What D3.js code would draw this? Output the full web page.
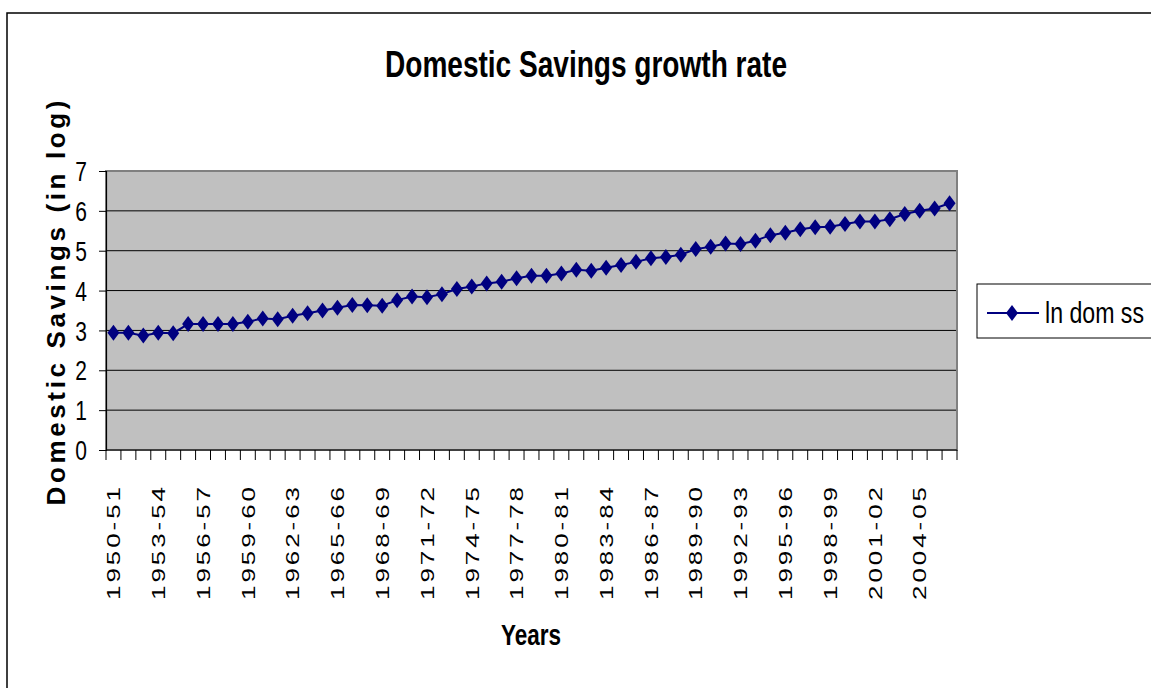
<!DOCTYPE html>
<html><head><meta charset="utf-8">
<script src="https://cdn.jsdelivr.net/npm/d3@7"></script>
<style>html,body{margin:0;padding:0;background:#fff;overflow:hidden}</style>
</head><body>
<svg id="c" width="1151" height="688"></svg>
<script>
const categories = ["1950-51","1951-52","1952-53","1953-54","1954-55","1955-56","1956-57","1957-58","1958-59","1959-60",
"1960-61","1961-62","1962-63","1963-64","1964-65","1965-66","1966-67","1967-68","1968-69","1969-70",
"1970-71","1971-72","1972-73","1973-74","1974-75","1975-76","1976-77","1977-78","1978-79","1979-80",
"1980-81","1981-82","1982-83","1983-84","1984-85","1985-86","1986-87","1987-88","1988-89","1989-90",
"1990-91","1991-92","1992-93","1993-94","1994-95","1995-96","1996-97","1997-98","1998-99","1999-00",
"2000-01","2001-02","2002-03","2003-04","2004-05","2005-06","2006-07"];
const lnDomSS = [2.94,2.94,2.87,2.94,2.93,3.16,3.16,3.16,3.16,3.22,
3.30,3.28,3.37,3.43,3.50,3.57,3.64,3.63,3.62,3.76,
3.85,3.83,3.91,4.04,4.10,4.18,4.22,4.31,4.37,4.37,
4.43,4.52,4.50,4.57,4.64,4.72,4.81,4.84,4.90,5.04,
5.10,5.18,5.17,5.25,5.39,5.45,5.54,5.59,5.60,5.67,
5.73,5.73,5.79,5.92,6.00,6.06,6.19];
const yTicks = [0,1,2,3,4,5,6,7];
const seriesName = "ln dom ss";
const titleText = "Domestic Savings growth rate";
const yTitle = "Domestic Savings (in log)";
const xTitle = "Years";

const svg = d3.select("#c");
const font = "Arial, 'Liberation Sans', sans-serif";
const L = 106, R = 957, T = 171, B = 450;
const x = d3.scaleBand().domain(categories).range([L, R]);
const y = d3.scaleLinear().domain([0, 7]).range([B, T]);
const navy = "#000080";
const sx = 0.75;

// outer border
svg.append("rect").attr("x", 7).attr("y", 13).attr("width", 1170).attr("height", 700)
  .attr("fill", "#fff").attr("stroke", "#000").attr("stroke-width", 1.5);

// plot area
svg.append("rect").attr("x", L).attr("y", T).attr("width", R - L).attr("height", B - T)
  .attr("fill", "#C0C0C0");

// gridlines
svg.append("g").selectAll("line").data(yTicks.filter(d => d > 0 && d < 7)).join("line")
  .attr("x1", L).attr("x2", R).attr("y1", d => y(d)).attr("y2", d => y(d))
  .attr("stroke", "#000").attr("stroke-width", 1);
// plot border
svg.append("rect").attr("x", L).attr("y", T).attr("width", R - L).attr("height", B - T)
  .attr("fill", "none").attr("stroke", "#808080").attr("stroke-width", 2);

// y axis
const yAxis = d3.axisLeft(y).tickValues(yTicks).tickSize(7).tickFormat("");
const gy = svg.append("g").attr("transform", `translate(${L},0)`).call(yAxis);
gy.select(".domain").attr("stroke", "#000").attr("stroke-width", 1.2);
gy.selectAll(".tick line").attr("stroke", "#000");
svg.append("g").selectAll("text").data(yTicks).join("text")
  .attr("transform", d => `translate(87,${y(d)}) scale(${sx},1)`)
  .attr("text-anchor", "end").attr("dy", "0.36em")
  .attr("font-family", font).attr("font-size", 28).attr("fill", "#000")
  .text(d => d);

// x axis
svg.append("line").attr("x1", L).attr("x2", R).attr("y1", B).attr("y2", B)
  .attr("stroke", "#000").attr("stroke-width", 1.2);
const bounds = categories.map(c => x(c)).concat([x(categories[categories.length - 1]) + x.bandwidth()]);
svg.append("g").selectAll("line").data(bounds).join("line")
  .attr("x1", d => d).attr("x2", d => d).attr("y1", B).attr("y2", B + 10)
  .attr("stroke", "#000").attr("stroke-width", 1);
svg.append("g").selectAll("text").data(categories.filter((c, i) => i % 3 === 0)).join("text")
  .attr("transform", c => `translate(${x(c) + x.bandwidth() / 2},487) scale(0.72,1) rotate(-90)`)
  .attr("text-anchor", "end").attr("dy", "0.36em")
  .attr("font-family", font).attr("font-size", 26).attr("fill", "#000")
  .attr("textLength", 113).attr("lengthAdjust", "spacing")
  .text(c => c);

// line + markers
const line = d3.line().x((d, i) => x(categories[i]) + x.bandwidth() / 2).y(d => y(d));
svg.append("path").datum(lnDomSS).attr("d", line).attr("fill", "none")
  .attr("stroke", navy).attr("stroke-width", 2);
const diamond = "M0,-8L6,0L0,8L-6,0Z";
svg.append("g").selectAll("path").data(lnDomSS).join("path")
  .attr("transform", (d, i) => `translate(${x(categories[i]) + x.bandwidth() / 2},${y(d)})`)
  .attr("d", diamond).attr("fill", navy);

// titles
svg.append("text").attr("transform", `translate(586,77)`)
  .attr("text-anchor", "middle").attr("font-family", font).attr("font-weight", "bold")
  .attr("font-size", 36).attr("textLength", 402).attr("lengthAdjust", "spacingAndGlyphs").text(titleText);
svg.append("text").attr("transform", `translate(531,645) scale(${sx},1)`)
  .attr("text-anchor", "middle").attr("font-family", font).attr("font-weight", "bold")
  .attr("font-size", 30).text(xTitle);
svg.append("text").attr("transform", `translate(56,303) rotate(-90)`)
  .attr("text-anchor", "middle").attr("dy", "0.36em").attr("font-family", font).attr("font-weight", "bold")
  .attr("font-size", 26).attr("textLength", 405).attr("lengthAdjust", "spacing").text(yTitle);

// legend
const lg = svg.append("g");
lg.append("rect").attr("x", 977).attr("y", 284).attr("width", 200).attr("height", 54)
  .attr("fill", "#fff").attr("stroke", "#000").attr("stroke-width", 1);
lg.append("line").attr("x1", 987).attr("x2", 1039).attr("y1", 313).attr("y2", 313)
  .attr("stroke", navy).attr("stroke-width", 2);
lg.append("path").attr("transform", "translate(1012,313)").attr("d", diamond).attr("fill", navy);
lg.append("text").attr("x", 1045).attr("y", 313)
  .attr("dy", "0.36em").attr("font-family", font).attr("font-size", 29)
  .attr("textLength", 99).attr("lengthAdjust", "spacingAndGlyphs").text(seriesName);
</script>
</body></html>
